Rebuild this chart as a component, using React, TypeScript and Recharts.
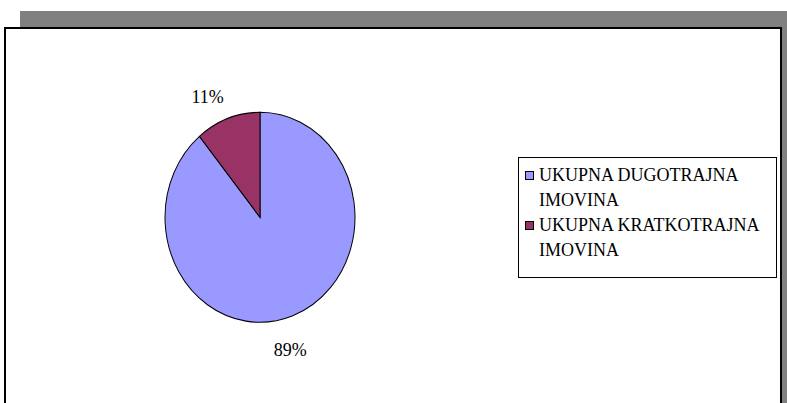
import { PieChart, Pie, Cell, Legend } from "recharts";

const names = ["UKUPNA DUGOTRAJNA IMOVINA", "UKUPNA KRATKOTRAJNA IMOVINA"];
const values = [89, 11];
const COLORS = ["#9999FF", "#993366"];

const data = names.map((name, i) => ({ name, value: values[i] }));

const FONT = "'Liberation Serif', 'Times New Roman', serif";
const RAD = Math.PI / 180;

const renderLabel = (props: any) => {
  const { cx, cy, midAngle, outerRadius, percent } = props;
  const r = outerRadius + 27;
  const x = cx + r * Math.cos(-midAngle * RAD);
  const y = cy + r * Math.sin(-midAngle * RAD);
  return (
    <text
      x={x}
      y={y}
      dx={-11}
      dy={5}
      textAnchor="middle"
      dominantBaseline="central"
      fill="#000"
      fontSize={18}
      fontFamily={FONT}
    >
      {`${Math.round(percent * 100)}%`}
    </text>
  );
};

const renderLegend = (props: any) => {
  const { payload } = props;
  return (
    <div
      style={{
        border: "1px solid #000",
        boxSizing: "border-box",
        width: 259,
        height: 121,
        padding: "5px 0 0 6px",
        background: "#fff",
        fontFamily: FONT,
        color: "#000",
      }}
    >
      {payload.map((entry: any, i: number) => (
        <div key={`legend-${i}`} style={{ display: "flex", alignItems: "flex-start" }}>
          <span
            style={{
              width: 9,
              height: 9,
              boxSizing: "border-box",
              border: "1px solid #000",
              background: entry.color,
              marginTop: 8,
              marginRight: 5,
              flexShrink: 0,
            }}
          />
          <span style={{ fontSize: 18, lineHeight: "25px", width: 232 }}>{entry.value}</span>
        </div>
      ))}
    </div>
  );
};

const App = () => {
  return (
    <div
      style={{
        position: "absolute",
        left: 0,
        top: 0,
        width: 787,
        height: 403,
        overflow: "hidden",
        background: "#fff",
      }}
    >
      <style>{`.stretch svg.recharts-surface { transform: scaleY(1.105); transform-origin: 0 0; }`}</style>
      <div
        style={{ position: "absolute", left: 20, top: 11, width: 767, height: 400, background: "#808080" }}
      />
      <div
        className="stretch"
        style={{
          position: "absolute",
          left: 4,
          top: 27,
          width: 778,
          height: 390,
          border: "2px solid #000",
          boxSizing: "border-box",
          background: "#fff",
        }}
      >
        <PieChart width={774} height={350} margin={{ top: 0, right: 0, bottom: 0, left: 0 }}>
          <Pie
            data={data}
            dataKey="value"
            nameKey="name"
            cx={254}
            cy={170.4}
            outerRadius={95}
            startAngle={90}
            endAngle={-270}
            stroke="#000"
            strokeWidth={1}
            label={renderLabel}
            labelLine={false}
            isAnimationActive={false}
          >
            {data.map((entry, index) => (
              <Cell key={`cell-${index}`} fill={COLORS[index]} />
            ))}
          </Pie>
          <Legend
            layout="vertical"
            align="right"
            verticalAlign="top"
            content={renderLegend}
            wrapperStyle={{ left: 512, top: 128, right: "auto", width: 259, height: 121 }}
          />
        </PieChart>
      </div>
    </div>
  );
};

export default App;
